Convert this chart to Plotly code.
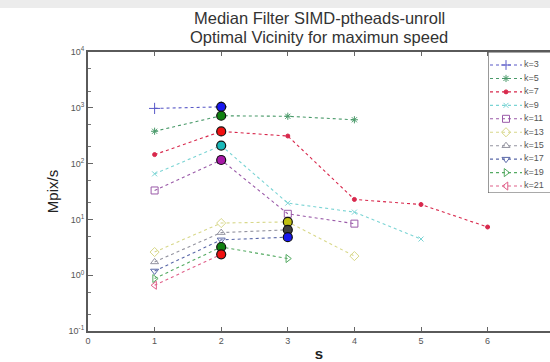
import plotly.graph_objects as go
import numpy as np

# ---- data ----
series_names = ["k=3", "k=5", "k=7", "k=9", "k=11", "k=13", "k=15", "k=17", "k=19", "k=21"]
s_k3 = [1, 2];             v_k3 = [975, 1040]
s_k5 = [1, 2, 3, 4];       v_k5 = [380, 720, 705, 610]
s_k7 = [1, 2, 3, 4, 5, 6]; v_k7 = [145, 377, 312, 22.8, 18.5, 7.3]
s_k9 = [1, 2, 3, 4, 5];    v_k9 = [65.5, 210, 19.6, 13.5, 4.45]
s_k11 = [1, 2, 3, 4];      v_k11 = [33, 116, 12.6, 8.4]
s_k13 = [1, 2, 3, 4];      v_k13 = [2.6, 8.6, 9.0, 2.2]
s_k15 = [1, 2, 3];         v_k15 = [1.73, 5.8, 6.5]
s_k17 = [1, 2, 3];         v_k17 = [1.19, 4.3, 4.8]
s_k19 = [1, 2, 3];         v_k19 = [0.87, 3.2, 1.99]
s_k21 = [1, 2];            v_k21 = [0.66, 2.37]

title_lines = ["Median Filter SIMD-ptheads-unroll", "Optimal Vicinity for maximun speed"]
x_tick_vals = [0, 1, 2, 3, 4, 5, 6]
y_tick_vals = [0.1, 1, 10, 100, 1000, 10000]
y_tick_text = ["10<sup>-1</sup>", "10<sup>0</sup>", "10<sup>1</sup>",
               "10<sup>2</sup>", "10<sup>3</sup>", "10<sup>4</sup>"]

xs = [s_k3, s_k5, s_k7, s_k9, s_k11, s_k13, s_k15, s_k17, s_k19, s_k21]
ys = [v_k3, v_k5, v_k7, v_k9, v_k11, v_k13, v_k15, v_k17, v_k19, v_k21]

# ---- styles ----
line_colors = ["#5a5ac8", "#4a9a6a", "#d8284c", "#7ad4d4", "#9a5aa8",
               "#d8d88a", "#9494a0", "#5a68a8", "#54aa62", "#e0608a"]
max_colors = ["#1818f0", "#108010", "#f01010", "#18b8b8", "#a818a8",
              "#c0c010", "#404040", "#1818f0", "#108010", "#f01010"]
symbols = ["cross-thin-open", "asterisk-open", "circle", "x-thin-open", "square-open",
           "diamond-open", "triangle-up-open", "triangle-down-open",
           "triangle-right-open", "triangle-left-open"]
sizes = [8, 6, 4, 5, 7, 7, 7, 7, 7, 7]

FONT = "Liberation Sans, Arial, sans-serif"

fig = go.Figure()

for i, name in enumerate(series_names):
    fig.add_trace(go.Scatter(
        x=xs[i], y=ys[i], mode="lines+markers", name=name, showlegend=False,
        line=dict(color=line_colors[i], width=1.1, dash="dot"),
        marker=dict(symbol=symbols[i], size=sizes[i], color=line_colors[i],
                    line=dict(color=line_colors[i], width=1.0)),
        hoverinfo="x+y+name"))

# optimum markers (max of each series)
for i, name in enumerate(series_names):
    j = int(np.argmax(ys[i]))
    fig.add_trace(go.Scatter(
        x=[xs[i][j]], y=[ys[i][j]], mode="markers", showlegend=False,
        marker=dict(symbol="circle", size=9, color=max_colors[i],
                    line=dict(color="#111111", width=1.2)),
        hoverinfo="skip"))

# ---- custom compact legend (pixel-like units in its own invisible axes) ----
leg_step = 13.45
leg_y = [13 + i * leg_step for i in range(len(series_names))]
for i, name in enumerate(series_names):
    yy = leg_y[i]
    fig.add_trace(go.Scatter(
        x=[2, 18, 34], y=[yy, yy, yy], xaxis="x2", yaxis="y2",
        mode="lines", showlegend=False, hoverinfo="skip",
        line=dict(color=line_colors[i], width=1.1, dash="dot")))
    fig.add_trace(go.Scatter(
        x=[18], y=[yy], xaxis="x2", yaxis="y2",
        mode="markers", showlegend=False, hoverinfo="skip",
        marker=dict(symbol=symbols[i], size=min(sizes[i], 7), color=line_colors[i],
                    line=dict(color=line_colors[i], width=1.0))))
fig.add_trace(go.Scatter(
    x=[36] * len(series_names), y=leg_y, xaxis="x2", yaxis="y2",
    mode="text", text=series_names, textposition="middle right",
    textfont=dict(family=FONT, size=9, color="#555555"),
    showlegend=False, hoverinfo="skip"))

fig.add_shape(type="rect", xref="x2", yref="y2", x0=0, x1=70, y0=0, y1=141,
              line=dict(color="#555555", width=1.2), fillcolor="white", layer="below")

# faint slide decoration band at the top
fig.add_shape(type="rect", xref="paper", yref="paper",
              x0=-88 / 462, x1=1.0, y0=(331 - 8) / 279, y1=331 / 279,
              line=dict(width=0), fillcolor="#ececec", layer="below")

# title lines
for t, py in zip(title_lines, [18, 37]):
    fig.add_annotation(text=t, xref="paper", yref="paper", x=0.5, y=(331 - py) / 279,
                       xanchor="center", yanchor="middle", showarrow=False,
                       font=dict(family=FONT, size=16.5, color="#333333"))

fig.update_layout(
    width=550, height=362,
    margin=dict(l=88, r=0, t=52, b=31),
    paper_bgcolor="white", plot_bgcolor="white",
    font=dict(family=FONT, color="#333333"),
    xaxis=dict(range=[0, 462 / 66.6], tickvals=x_tick_vals,
               ticks="inside", ticklen=4, tickwidth=1, tickcolor="#666666",
               showline=True, linecolor="#5a5a5a", linewidth=2, mirror="ticks",
               showgrid=False, zeroline=False,
               tickfont=dict(family=FONT, size=9, color="#555555"),
               title=dict(text="<b>s</b>", standoff=7,
                          font=dict(family=FONT, size=15, color="#222222"))),
    yaxis=dict(type="log", range=[-1, 4], tickvals=y_tick_vals, ticktext=y_tick_text,
               ticks="inside", ticklen=5, tickwidth=1, tickcolor="#666666",
               minor=dict(ticks="inside", ticklen=3, tickcolor="#777777", showgrid=False),
               showline=True, linecolor="#5a5a5a", linewidth=2, mirror=False,
               showgrid=False, zeroline=False,
               tickfont=dict(family=FONT, size=9, color="#555555"),
               title=dict(text="Mpix/s", standoff=6,
                          font=dict(family=FONT, size=15, color="#222222"))),
    xaxis2=dict(domain=[400 / 462, 1.0], range=[0, 62], anchor="y2",
                visible=False, fixedrange=True),
    yaxis2=dict(domain=[(331 - 193) / 279, 1.0], range=[141, 0], anchor="x2",
                visible=False, fixedrange=True),
)

fig.write_html("out.html")
